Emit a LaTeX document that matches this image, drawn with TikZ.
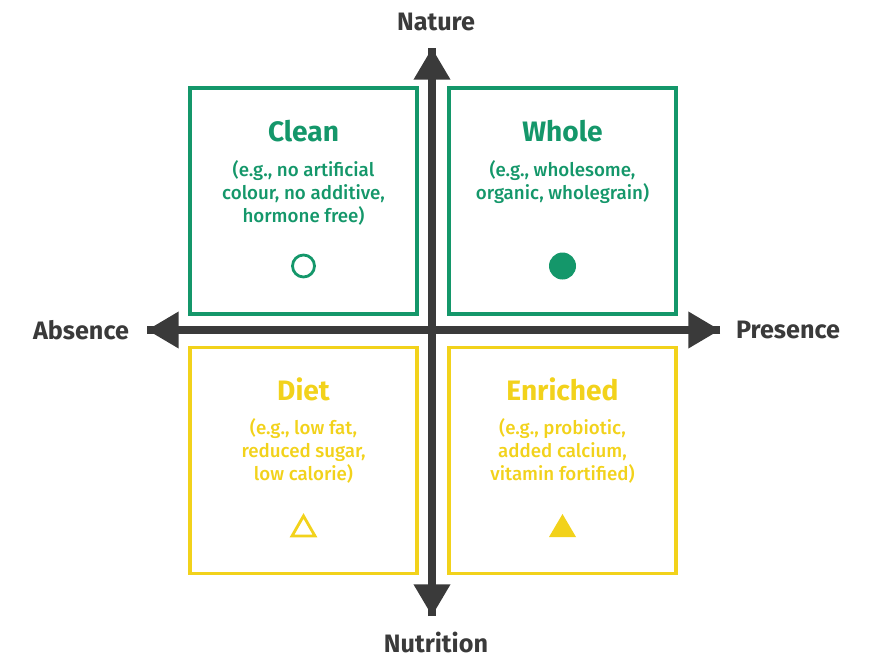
\documentclass[tikz,border=0pt]{standalone}
\usepackage{fontspec}
\setmainfont{Fira Sans}
\newfontfamily\medfont{Fira Sans}[UprightFont=* Medium]
\usetikzlibrary{arrows.meta}
\definecolor{grn}{HTML}{14976A}
\definecolor{ylw}{HTML}{F2D21B}
\definecolor{axis}{HTML}{3A3A3A}
\tikzset{
  quad/.style={draw=#1, line width=2.6pt, minimum width=6.81cm, minimum height=6.78cm},
  ttl/.style={text=#1, font=\bfseries\fontsize{24}{28}\selectfont},
  desc/.style={text=#1, align=center, font=\medfont\fontsize{16}{19.6}\selectfont},
  axlbl/.style={text=axis, font=\bfseries\fontsize{21.5}{24}\selectfont}
}
\begin{document}
\begin{tikzpicture}[x=0.03cm,y=-0.03cm]
  \useasboundingbox (0,0) rectangle (874,665);
  % quadrants
  \node[quad=grn] (clean) at (303.5,201) {};
  \node[quad=grn] (whole) at (562.5,201) {};
  \node[quad=ylw] (diet) at (303.5,460.5) {};
  \node[quad=ylw] (enriched) at (562.5,460.5) {};

  % axes
  \coordinate (top) at (432,48);
  \coordinate (bot) at (432,616);
  \coordinate (lft) at (147,330);
  \coordinate (rgt) at (720,330);
  \draw[axis, line width=6pt, -{Triangle[length=0.95cm,width=1.05cm]}] (bot) -- (top);
  \draw[axis, line width=6pt, -{Triangle[length=0.95cm,width=1.05cm]}] (top) -- (bot);
  \draw[axis, line width=6pt, -{Triangle[length=0.95cm,width=1.05cm]}] (rgt) -- (lft);
  \draw[axis, line width=6pt, -{Triangle[length=0.95cm,width=1.05cm]}] (lft) -- (rgt);

  \node[axlbl] (nature) at (436,22) {Nature};
  \node[axlbl] (nutrition) at (436,642) {Nutrition};
  \node[axlbl] (absence) at (81,330) {Absence};
  \node[axlbl] (presence) at (788,330) {Presence};

  % texts
  \node[ttl=grn] (cleant) at (303.5,131) {Clean};
  \node[desc=grn] (cleand) at (303.5,193) {(e.g., no artificial\\colour, no additive,\\hormone free)};
  \node[ttl=grn] (wholet) at (562.5,131) {Whole};
  \node[desc=grn] (wholed) at (562.5,182) {(e.g., wholesome,\\organic, wholegrain)};
  \node[ttl=ylw] (dietT) at (303.5,389) {Diet};
  \node[desc=ylw] (dietd) at (303.5,451) {(e.g., low fat,\\reduced sugar,\\low calorie)};
  \node[ttl=ylw] (enrt) at (562.5,389) {Enriched};
  \node[desc=ylw] (enrd) at (562.5,451) {(e.g., probiotic,\\added calcium,\\vitamin fortified)};

  % markers
  \draw[grn, line width=2.4pt] (303.5,266) circle (11);
  \fill[grn] (562.5,266) circle (13.5);
  \draw[ylw, line width=2.4pt] (292,536) -- (315,536) -- (303.5,516) -- cycle;
  \fill[ylw] (549,537) -- (576,537) -- (562.5,514) -- cycle;
\end{tikzpicture}
\end{document}
